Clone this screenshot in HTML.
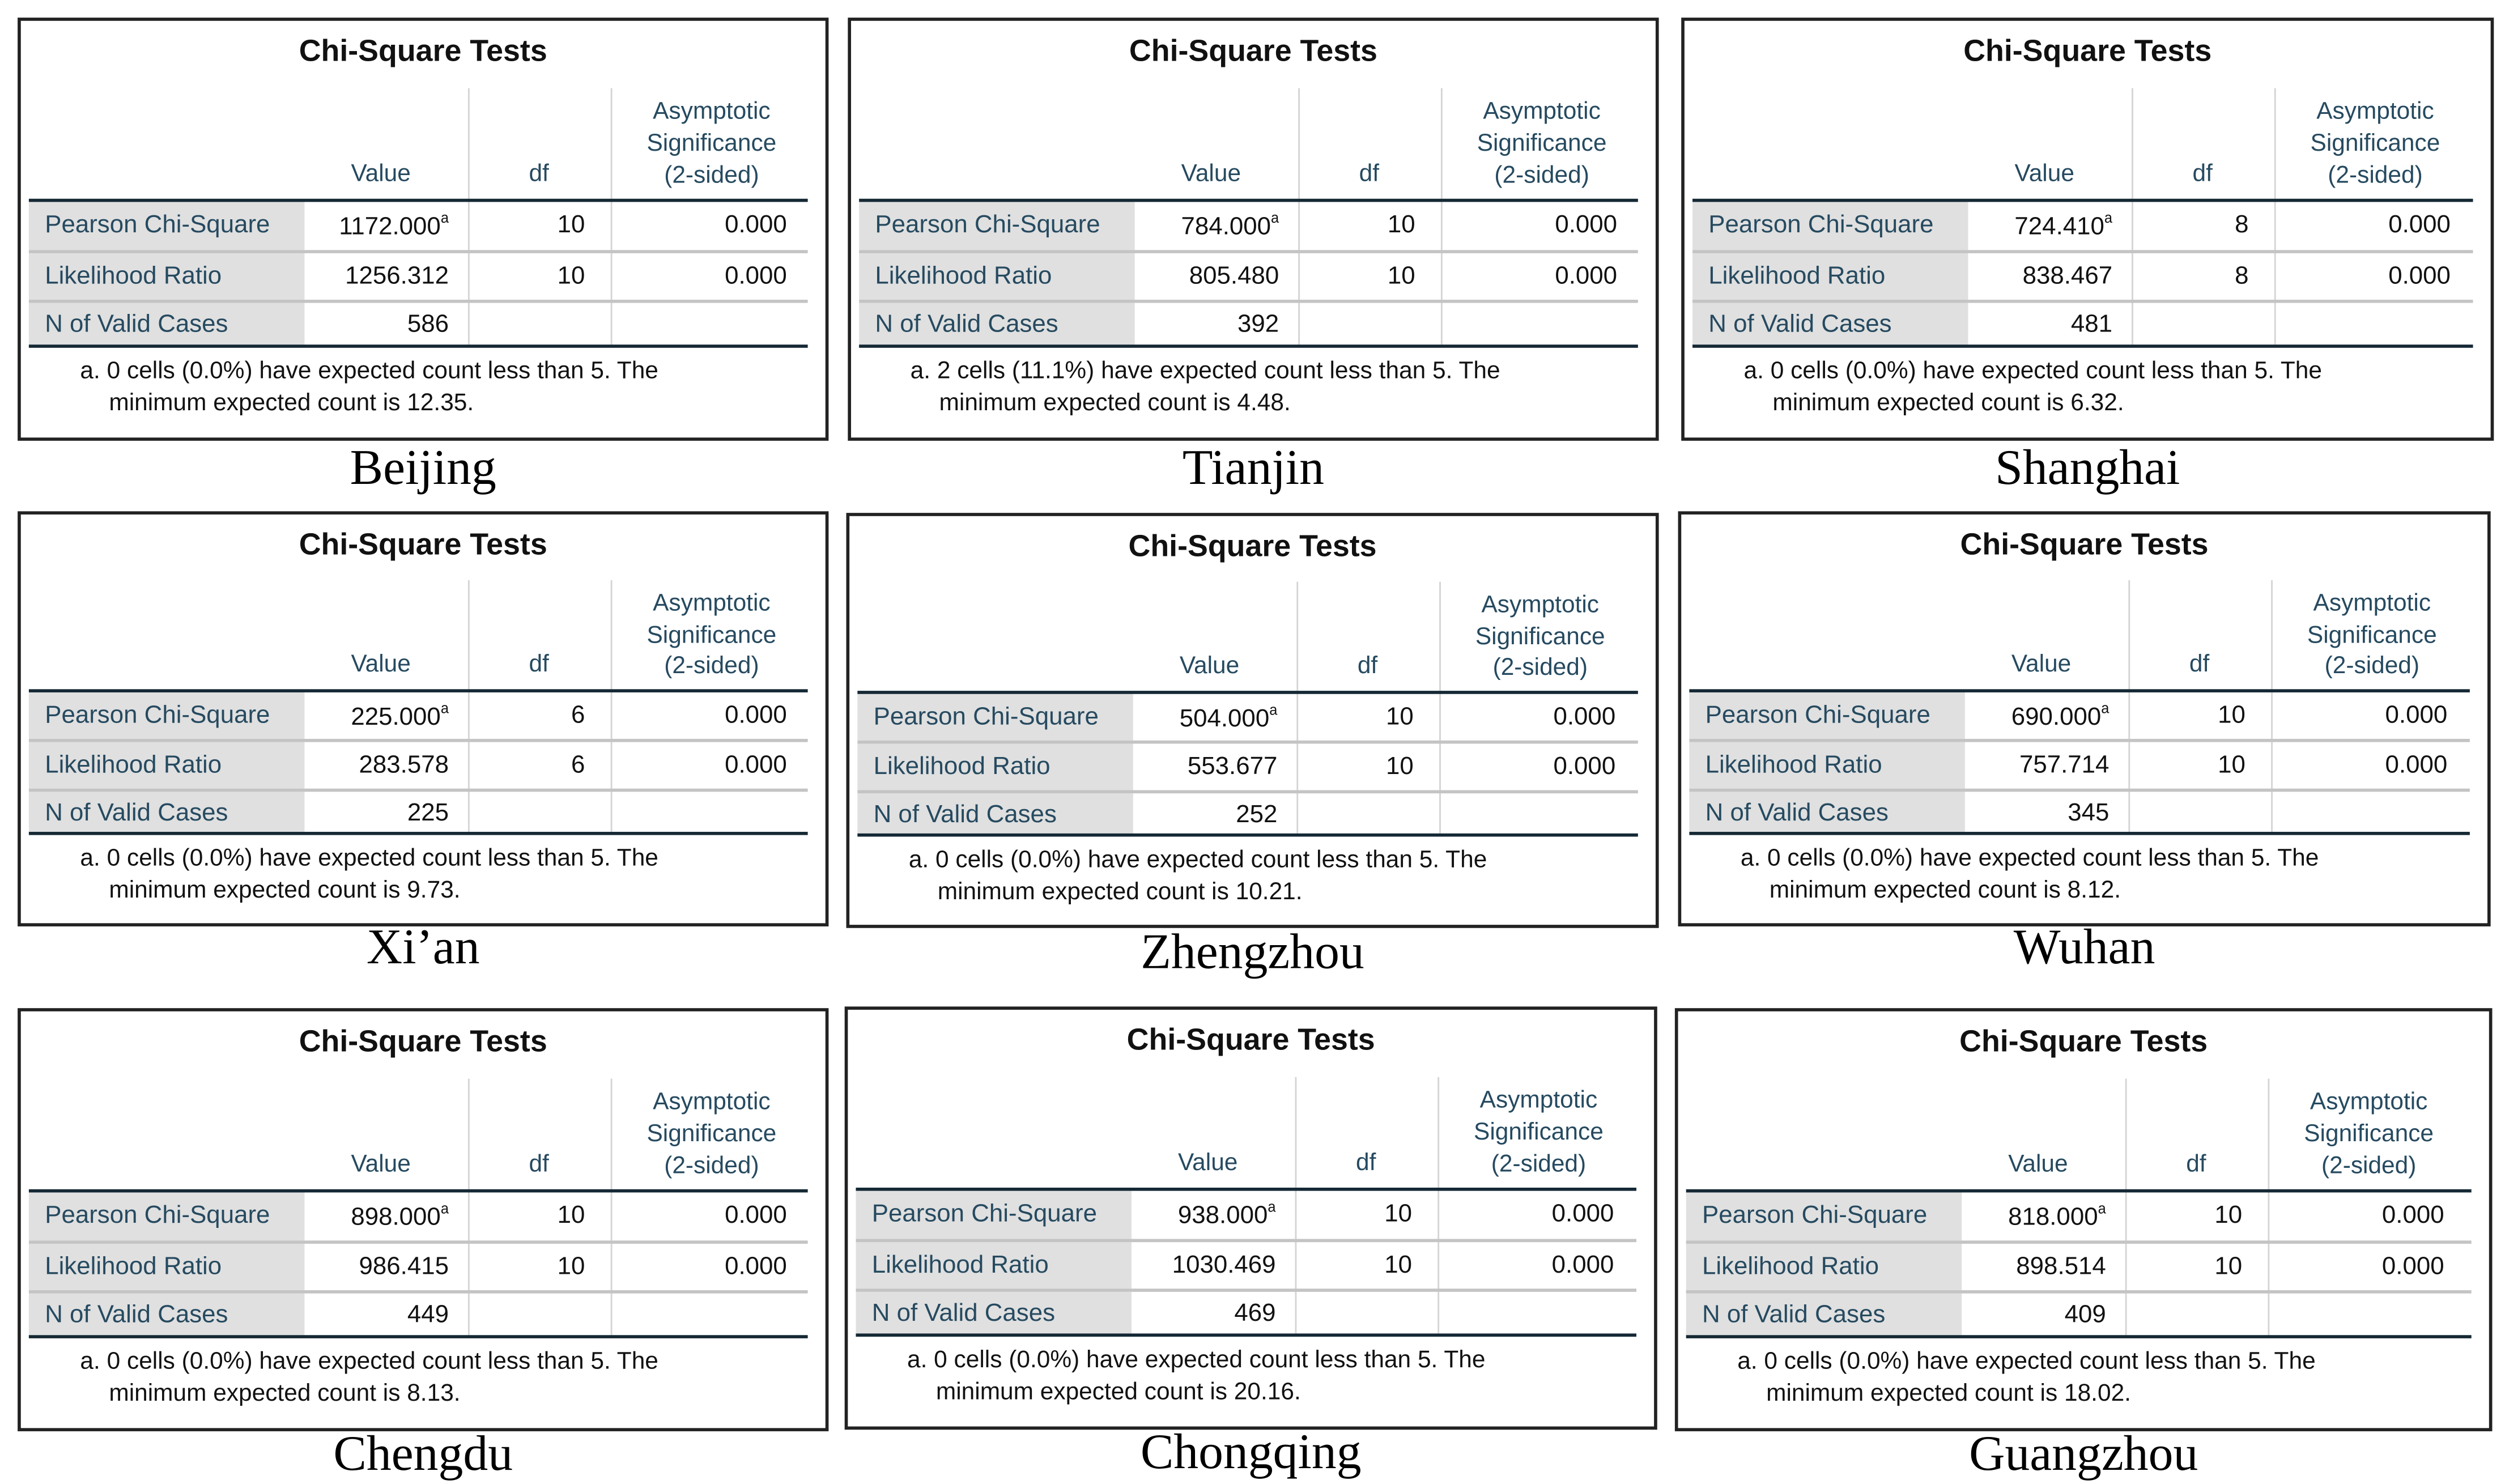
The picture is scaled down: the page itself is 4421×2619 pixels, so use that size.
<!DOCTYPE html>
<html><head><meta charset="utf-8">
<style>
html,body{margin:0;padding:0;background:#fff;}
body{width:4421px;height:2619px;overflow:hidden;position:relative;}
#wrap{position:absolute;left:0;top:0;width:1563px;height:926px;transform:scale(2.8286);transform-origin:0 0;font-family:"Liberation Sans",Arial,sans-serif;}
.box{position:absolute;border:2px solid #222;box-sizing:border-box;background:#fff;}
.abs{position:absolute;white-space:nowrap;}
.title{font-weight:bold;font-size:19px;color:#111;width:100%;text-align:center;}
.hd{color:#264a60;font-size:15px;}
.lab{color:#264a60;font-size:15.5px;}
.val{color:#111;font-size:15.5px;text-align:right;}
.foot{color:#111;font-size:15px;line-height:20px;}
.city{font-family:"Liberation Serif","Times New Roman",serif;font-size:31px;color:#000;text-align:center;width:300px;}
sup{font-size:9px;position:relative;top:-1px;}
</style></head>
<body>
<div id="wrap"></div>
<script>
const cities=["Beijing","Tianjin","Shanghai","Xi\u2019an","Zhengzhou","Wuhan","Chengdu","Chongqing","Guangzhou"];
const pearson=["1172.000","784.000","724.410","225.000","504.000","690.000","898.000","938.000","818.000"];
const likelihood=["1256.312","805.480","838.467","283.578","553.677","757.714","986.415","1030.469","898.514"];
const dfs=["10","10","8","6","10","10","10","10","10"];
const nCases=["586","392","481","225","252","345","449","469","409"];
const footA=["a. 0 cells (0.0%) have expected count less than 5. The","a. 2 cells (11.1%) have expected count less than 5. The","a. 0 cells (0.0%) have expected count less than 5. The","a. 0 cells (0.0%) have expected count less than 5. The","a. 0 cells (0.0%) have expected count less than 5. The","a. 0 cells (0.0%) have expected count less than 5. The","a. 0 cells (0.0%) have expected count less than 5. The","a. 0 cells (0.0%) have expected count less than 5. The","a. 0 cells (0.0%) have expected count less than 5. The"];
const minCount=["12.35","4.48","6.32","9.73","10.21","8.12","8.13","20.16","18.02"];
const boxes=[[11,11,506,264],[529,11,506,264],[1049,11,507,264],[11,319,506,259],[528,320,507,259],[1047,319,507,259],[11,629,506,264],[527,628,507,264],[1045,629,510,264]];
const labelY=[276,276,276,575,578,575,891,890,891];
const wrap=document.getElementById('wrap');
function mk(parent,cls,css,html){const d=document.createElement('div');d.className=cls;d.style.cssText=css;if(html!==undefined)d.innerHTML=html;parent.appendChild(d);return d;}
for(let i=0;i<9;i++){
  const [bx,by,bw,bh]=boxes[i];
  const s=bh/264;
  const Y=v=>(v*s).toFixed(1)+'px';
  const b=mk(wrap,'box',`left:${bx}px;top:${by}px;width:${bw}px;height:${bh}px;`);
  
  
  const t=mk(b,'abs title',`left:0;top:${Y(9)};`,'Chi-Square Tests');
  
  
  [[113,143],[145,174],[176,202]].forEach((r,k)=>{
    const g=mk(b,'abs',`left:5px;top:${Y(r[0])};width:172px;height:${Y(r[1]-r[0])};background:#e0e0e0;`);
    
    
  });
  [279,368].forEach(x=>{
    const l=mk(b,'abs',`left:${x}px;top:${Y(42)};width:1px;height:${Y(160)};background:#d4d4d4;`);
    
    
  });
  [[111,2,'#152935'],[143,2,'#c4c4c4'],[174,2,'#c4c4c4'],[202,2,'#152935']].forEach(h=>{
    const l=mk(b,'abs',`left:5px;top:${Y(h[0])};width:${bw-20}px;height:${h[1]}px;background:${h[2]};`);
    
    
  });
  const hv=mk(b,'abs hd',`left:206px;top:${Y(87)};`,'Value');
  
  const hd=mk(b,'abs hd',`left:317px;top:${Y(87)};`,'df');
  
  const ha=mk(b,'abs hd',`left:366px;width:130px;text-align:center;top:${Y(47)};line-height:${Y(20)};`,'Asymptotic<br>Significance<br>(2-sided)');
  
  const rows=[['Pearson Chi-Square',pearson[i]+'<sup>a</sup>',dfs[i],'0.000',119],['Likelihood Ratio',likelihood[i],dfs[i],'0.000',151],['N of Valid Cases',nCases[i],'','',181]];
  rows.forEach(r=>{
    const l=mk(b,'abs lab',`left:15px;top:${Y(r[4])};`,r[0]);
    
    const v=mk(b,'abs val',`right:${bw-271}px;top:${Y(r[4])};`,r[1]);
    
    if(r[2]){const d=mk(b,'abs val',`right:${bw-356}px;top:${Y(r[4])};`,r[2]);
      }
    if(r[3]){const p=mk(b,'abs val',`right:${bw-482}px;top:${Y(r[4])};`,r[3]);
      }
  });
  const f=mk(b,'abs foot',`left:37px;top:${Y(209)};`,footA[i]+'<br><span style="padding-left:18px">minimum expected count is '+minCount[i]+'.</span>');
  
  const c=mk(wrap,'abs city',`left:${bx+bw/2-150}px;top:${labelY[i]-2}px;`,cities[i]);
  
}
</script>
</body></html>
